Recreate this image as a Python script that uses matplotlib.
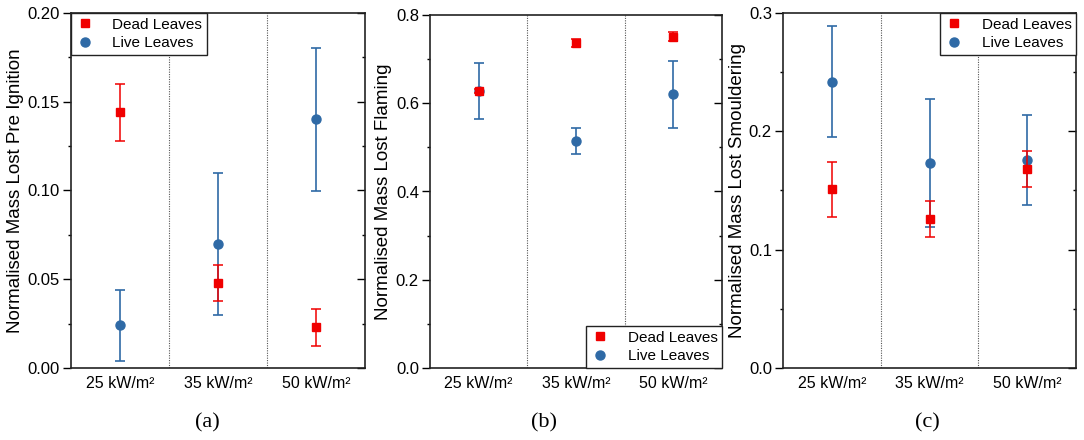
import numpy as np
import matplotlib
matplotlib.use("Agg")
import matplotlib.pyplot as plt
from matplotlib.ticker import MultipleLocator
from matplotlib.lines import Line2D

plt.rcParams['font.family'] = ['Liberation Sans', 'DejaVu Sans']

categories = ["25 kW/m²", "35 kW/m²", "50 kW/m²"]

# pre ignition
pre_dead = [0.144, 0.048, 0.023]
pre_dead_err = [0.016, 0.010, 0.0105]
pre_live = [0.024, 0.070, 0.140]
pre_live_err = [0.020, 0.040, 0.040]

# flaming
flame_dead = [0.628, 0.737, 0.751]
flame_dead_err = [0.005, 0.009, 0.010]
flame_live = [0.628, 0.515, 0.620]
flame_live_err = [0.064, 0.029, 0.075]

# smouldering
smoul_dead = [0.151, 0.126, 0.168]
smoul_dead_err = [0.023, 0.015, 0.015]
smoul_live = [0.242, 0.173, 0.176]
smoul_live_err = [0.047, 0.054, 0.038]

red = "#f00000"
blue = "#2f6aa6"

fig = plt.figure(figsize=(10.84, 4.4), dpi=100)
W, H = 1084, 440

def make_panel(rect, dead, dead_err, live, live_err, ylim, major, minor,
               ylabel, ylabel_x, leg_loc, leg_anchor, letter, letter_x):
    l, t, r, b = rect
    ax = fig.add_axes([l / W, 1 - b / H, (r - l) / W, (b - t) / H])
    x = np.arange(1, len(categories) + 1)
    ax.errorbar(x, live, yerr=live_err, fmt='o', color=blue, ms=6.5,
                capsize=3.5, elinewidth=1.2, capthick=1.2, zorder=3)
    ax.errorbar(x, dead, yerr=dead_err, fmt='s', color=red, ms=5.5,
                capsize=3.5, elinewidth=1.1, capthick=1.1, zorder=4)
    for xv in [1.5, 2.5]:
        ax.axvline(xv, color="#555555", ls=(0, (1, 1.2)), lw=0.8, zorder=1)
    ax.set_xlim(0.5, 3.5)
    ax.set_ylim(*ylim)
    ax.set_xticks(x)
    ax.set_xticklabels(categories, fontsize=11.5)
    ax.tick_params(axis='x', length=0, pad=6)
    ax.yaxis.set_major_locator(MultipleLocator(major))
    ax.yaxis.set_minor_locator(MultipleLocator(minor))
    ax.tick_params(axis='y', which='major', direction='out', length=5.5, width=1,
                   pad=2.5, labelsize=12, right=True)
    ax.tick_params(axis='y', which='minor', direction='out', length=2.5, width=1, right=True)
    # right side ticks point inward
    for tk in ax.yaxis.get_major_ticks() + ax.yaxis.get_minor_ticks():
        tk.tick2line.set_marker(0)
    ax.set_ylabel(ylabel, fontsize=13.5, va='center')
    ax.yaxis.set_label_coords((ylabel_x - l) / (r - l), 0.5)
    for s in ax.spines.values():
        s.set_linewidth(1.2)
        s.set_color("#222222")
    handles = [Line2D([], [], ls='none', marker='s', color=red, ms=5.5),
               Line2D([], [], ls='none', marker='o', color=blue, ms=6.5)]
    leg = ax.legend(handles, ["Dead Leaves", "Live Leaves"], loc=leg_loc,
                    bbox_to_anchor=leg_anchor, borderaxespad=0, fontsize=11,
                    fancybox=False, framealpha=1, edgecolor="#222222",
                    handlelength=1.2, handletextpad=1.2, borderpad=0.3,
                    labelspacing=0.3)
    leg.get_frame().set_linewidth(1.0)
    fig.text(letter_x / W, 0.038, letter, fontsize=16, family=['Liberation Serif'],
             ha='center', va='center')
    return ax

make_panel((71, 13, 365, 368), pre_dead, pre_dead_err, pre_live, pre_live_err,
           (0, 0.20), 0.05, 0.025, "Normalised Mass Lost Pre Ignition", 16,
           'upper left', (0.0, 1.0), "(a)", 207)
make_panel((430, 15, 722, 368), flame_dead, flame_dead_err, flame_live, flame_live_err,
           (0, 0.8), 0.2, 0.1, "Normalised Mass Lost Flaming", 383,
           'lower right', (1.0, 0.0), "(b)", 544)
make_panel((783, 13, 1076, 368), smoul_dead, smoul_dead_err, smoul_live, smoul_live_err,
           (0, 0.3), 0.1, 0.05, "Normalised Mass Lost Smouldering", 737,
           'upper right', (1.0, 1.0), "(c)", 927)

fig.savefig("out.png", dpi=100)
